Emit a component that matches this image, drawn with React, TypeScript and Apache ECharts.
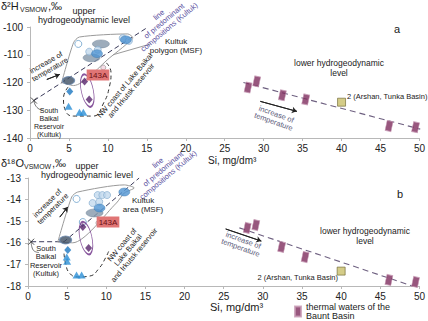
import React, { useEffect, useRef } from "react";
import * as echarts from "echarts";

const FONT = "'Liberation Sans', Arial, sans-serif";

// ---- thermal waters of the Baunt Basin (lower level) ----
const siBaunt = [28.0, 29.1, 32.4, 35.4, 46.1, 49.5];
const d2hBaunt = [-121.8, -119.6, -124.6, -126.1, -135.7, -136.1];
const d18oBaunt = [-15.31, -15.18, -16.19, -16.66, -17.72, -17.81];
// 2 (Arshan, Tunka Basin)
const arshanSi = [40.0];
const arshanD2H = [-127.1];
const arshanD18O = [-17.31];
// lower-level trend lines
const lowerLineA = [[27.4, -120.0], [50.1, -136.8]];
const lowerLineB = [[27.0, -15.31], [49.1, -18.0]];

// ---- upper level, panel a (δ2H) ----
const crossA = [[0.5, -126.5]];
const predomLineA = [[0.5, -126.5], [15.0, -100.3]];
const polygonA = [[4.06, -120.0], [5.58, -105.7], [6.35, -103.6], [12.56, -102.5], [13.2, -103.9], [12.3, -106.4], [10.4, -110.7], [5.58, -121.1], [4.06, -120.0]];
const leaderA = [[10.66, -110.0], [15.5, -106.1]];
const nwBoundA = [[4.9, -121.6], [4.3, -125.6], [4.6, -130.4], [5.6, -132.1], [8.1, -132.1], [9.5, -127.1], [10.2, -121.4], [10.4, -116.4], [9.8, -112.9]];
const southLinkA = [[0.5, -126.5], [0.9, -129.0], [1.7, -130.0]];
const openCircA = [[6.2, -106.1]];
const lightCircA = [[11.9, -104.0], [12.7, -105.0], [7.6, -108.9], [8.7, -108.2]];
const grayEllA = [[9.1, -106.1], [7.9, -111.1]];
const blueEllA = [[12.3, -104.6], [8.6, -109.6]];
const darkEllA = [[4.95, -119.3]];
const pinkA = [[9.4, -114.6]];
const purpleDiaA = [[7.0, -119.6], [7.6, -126.1]];
const purpleRingA = [[7.35, -122.9]];
const blueDiaA = [[5.1, -123.2]];
const triA = [[4.95, -128.6], [6.35, -130.7], [6.85, -130.7]];
const arrowsA = [
  [[2.16, -118.9], [3.81, -117.1]],
  [[29.57, -126.8], [34.26, -130.4]],
];

// ---- upper level, panel b (δ18O) ----
const crossB = [[0.4, -15.95]];
const predomLineB = [[0.4, -15.95], [4.6, -15.95], [14.2, -13.0]];
const polygonB = [[3.81, -15.96], [5.58, -13.88], [6.35, -13.65], [12.31, -13.32], [13.58, -13.46], [12.31, -13.69], [11.29, -14.16], [5.71, -16.0], [3.81, -15.96]];
const nwBoundB = [[4.6, -16.5], [4.8, -16.95], [5.3, -17.4], [6.35, -17.58], [7.87, -17.54], [9.1, -17.17], [9.9, -16.7], [10.3, -16.4]];
const southLinkB = [[0.4, -15.95], [0.6, -16.3], [1.4, -16.45]];
const openCircB = [[6.2, -13.97], [7.0, -15.04]];
const lightCircB = [[8.9, -13.79], [9.5, -13.79], [10.1, -13.79], [8.25, -14.16], [9.1, -14.1]];
const grayEllB = [[8.5, -14.62]];
const blueEllB = [[12.3, -13.65], [9.14, -14.39]];
const darkEllB = [[4.8, -15.87]];
const pinkB = [[9.0, -15.08]];
const purpleDiaB = [[7.0, -15.27], [7.74, -16.24]];
const purpleRingB = [[7.4, -15.78]];
const blueDiaB = [[5.08, -16.33]];
const triB = [[4.95, -16.66], [5.0, -16.85], [6.2, -17.49], [6.85, -17.49]];
const arrowsB = [
  [[4.06, -14.81], [5.08, -14.34]],
  [[25.25, -15.36], [29.8, -15.92]],
];

const BAUNT = "thermal waters of the\nBaunt Basin";

function App() {
  const ref = useRef<HTMLDivElement>(null);
  useEffect(() => {
    if (!ref.current) return;
    const chart = echarts.init(ref.current, null, { renderer: "svg" });

    const ax = (i: number) => ({ xAxisIndex: i, yAxisIndex: i });
    const line = (i: number, data: number[][], color: string, opts: any = {}) => ({
      type: "line", ...ax(i), data, symbol: "none", silent: true, smooth: opts.smooth || false,
      lineStyle: { color, width: opts.width || 1, type: opts.type || "solid" }, z: opts.z || 2,
    });
    const scat = (i: number, data: number[][], symbol: string, size: any, style: any, opts: any = {}) => ({
      type: "scatter", ...ax(i), data, symbol, symbolSize: size, silent: true,
      symbolRotate: opts.rot || 0, itemStyle: style, z: opts.z || 3, name: opts.name,
    });
    const arrows = (i: number, arr: number[][][]) => arr.map((a) => ({
      type: "line", ...ax(i), data: a, symbol: "none", silent: true,
      lineStyle: { color: "#222", width: 1 },
      markLine: {
        silent: true, symbol: ["none", "arrow"], symbolSize: 5, animation: false,
        lineStyle: { color: "#222", width: 1, type: "solid" }, label: { show: false },
        data: [[{ coord: a[0] }, { coord: a[1] }]],
      },
    }));

    const upper = (i: number, d: any) => [
      line(i, d.predom, "#3a3a5a", { type: [5, 3], width: 1 }),
      line(i, d.polygon, "#9a9a9a", { smooth: 0.25 }),
      ...(d.leader ? [line(i, d.leader, "#9a9a9a")] : []),
      line(i, d.nw, "#333", { type: [4, 3], smooth: 0.5 }),
      line(i, d.south, "#555", { smooth: 0.6, width: 0.8 }),
      scat(i, d.gray, "circle", [17, 8], { color: "#8497aa", borderColor: "#6c7f93", borderWidth: 0.5 }),
      scat(i, d.light, "circle", 7, { color: "#c3daee", borderColor: "#7fa8cc", borderWidth: 0.8 }, { z: 4 }),
      scat(i, d.blue, "circle", [11, 8], { color: "#4f93d2", borderColor: "#3a78b0", borderWidth: 0.5 }, { z: 5 }),
      scat(i, d.open, "circle", 7, { color: "#ffffff", borderColor: "#6aa0cc", borderWidth: 1 }),
      scat(i, d.dark, "circle", [12, 8], { color: "#3d4f63", borderColor: "#6a8ab0", borderWidth: 1 }),
      scat(i, d.pink, "circle", 5, { color: "#f1d3de", borderColor: "#8a8a8a", borderWidth: 0.8 }),
      scat(i, d.ring, "circle", [12, 33], { color: "rgba(0,0,0,0)", borderColor: "#6a2c84", borderWidth: 1.2 }, { rot: 12 }),
      scat(i, d.pdia, "diamond", [7, 8], { color: "#58246b" }),
      scat(i, d.bdia, "diamond", [7, 8], { color: "#1b77c0" }),
      scat(i, d.tri, "triangle", [8, 7], { color: "#2a8fd6" }),
      scat(i, d.cross, "path://M0,0L10,10M10,0L0,10", 6, { color: "none", borderColor: "#222", borderWidth: 1 }),
    ];

    const lower = (i: number, yv: number[], ay: number[], ll: number[][]) => [
      line(i, ll, "#6e6080", { type: [6, 4], width: 1.1 }),
      scat(i, siBaunt.map((x, k) => [x, yv[k]]), "rect", [6, 10],
        { color: "#7e2d5e", borderColor: "#c79ab4", borderWidth: 0.8 }, { rot: -12, name: BAUNT }),
      scat(i, arshanSi.map((x, k) => [x, ay[k]]), "rect", [8, 8],
        { color: "#c9bf6a", borderColor: "#6b6330", borderWidth: 0.8 }),
    ];

    const axisLabel = { fontSize: 10, color: "#222", fontFamily: FONT };
    const xAxis = (i: number) => ({
      type: "value", gridIndex: i, min: 0, max: 50, interval: 5,
      axisLine: { lineStyle: { color: "#b8b8b8" } },
      axisTick: { length: 3, lineStyle: { color: "#b8b8b8" } },
      splitLine: { show: false },
      axisLabel: { ...axisLabel, margin: 5 },
    });
    const yAxis = (i: number, min: number, max: number, interval: number) => ({
      type: "value", gridIndex: i, min, max, interval,
      axisLine: { show: true, lineStyle: { color: "#b8b8b8" } },
      axisTick: { show: true, length: 3, lineStyle: { color: "#b8b8b8" } },
      splitLine: { show: false },
      axisLabel: { ...axisLabel, margin: 7 },
    });

    const T = (x: number, y: number, text: string, o: any = {}) => ({
      type: "text", x, y, rotation: ((o.rot || 0) * Math.PI) / 180, silent: true, z: 100,
      style: {
        text, fill: o.color || "#1a1a1a", fontSize: o.size || 8, fontFamily: FONT,
        align: o.align || "center", verticalAlign: "middle", lineHeight: o.lh || (o.size || 8) + 1,
        backgroundColor: o.bg, padding: o.pad,
      },
    });
    const PUR = "#5a50a0";
    const graphic = [
      // panel a
      T(1, 6, "δ²H", { size: 11, align: "left" }),
      T(20, 9, "VSMOW", { size: 7, align: "left" }),
      T(48, 6, ",‰", { size: 11, align: "left" }),
      T(84, 15, "upper\nhydrogeodynamic level", { size: 9, lh: 9 }),
      T(164, 21, "line\nof predominant\ncompositions (Kultuk)", { size: 7.5, rot: 40, color: PUR, lh: 8 }),
      T(176, 46, "Kultuk\npolygon (MSF)", { size: 8, lh: 9 }),
      T(48, 66, "increase of\ntemperature", { size: 7.5, rot: 30, lh: 8 }),
      T(98, 75, "143A", { size: 8, bg: "#e07575", pad: [1, 2], color: "#6a0f14" }),
      T(128, 88, "NW coast of Lake Baikal\nand Irkutsk reservoir", { size: 7.5, rot: 50, lh: 8 }),
      T(49, 122, "South\nBaikal\nReservoir\n(Kultuk)", { size: 7, lh: 8 }),
      T(397, 29, "a", { size: 11 }),
      T(339, 68, "lower hydrogeodynamic\nlevel", { size: 8.5, lh: 10 }),
      T(347, 96, "2 (Arshan, Tunka Basin)", { size: 7.5, align: "left" }),
      T(275, 118, "increase of\ntemperature", { size: 7.5, rot: -20, color: "#5a5a7a", lh: 8 }),
      T(208, 160, "Si, mg/dm³", { size: 10, align: "left" }),
      // panel b
      T(1, 163, "δ¹⁸O", { size: 11, align: "left" }),
      T(24, 166, "VSMOW", { size: 7, align: "left" }),
      T(52, 163, ",‰", { size: 11, align: "left" }),
      T(87, 170, "upper\nhydrogeodynamic level", { size: 9, lh: 9 }),
      T(163, 169, "line\nof predominant\ncompositions (Kultuk)", { size: 7.5, rot: 40, color: PUR, lh: 8 }),
      T(143, 205, "Kultuk\narea (MSF)", { size: 8, lh: 9 }),
      T(50, 206, "increase of\ntemperature", { size: 7.5, rot: 45, lh: 8 }),
      T(108, 222, "143A", { size: 8, bg: "#e07575", pad: [1, 2], color: "#6a0f14" }),
      T(128, 250, "NW coast of\nLake Baikal\nand Irkutsk reservoir", { size: 7.5, rot: 50, lh: 8 }),
      T(46, 261, "South\nBaikal\nReservoir\n(Kultuk)", { size: 7.5, lh: 8.5 }),
      T(400, 194, "b", { size: 11 }),
      T(365, 236, "lower hydrogeodynamic\nlevel", { size: 8.5, lh: 10 }),
      T(338, 277, "2 (Arshan, Tunka Basin)", { size: 7.5, align: "right" }),
      T(242, 244, "increase of\ntemperature", { size: 7.5, rot: -20, color: "#5a5a7a", lh: 8 }),
      T(210, 307, "Si, mg/dm³", { size: 11, align: "left" }),
    ];

    const option: any = {
      animation: false,
      backgroundColor: "#ffffff",
      grid: [
        { left: 28, top: 27, width: 394, height: 111 },
        { left: 28, top: 178, width: 394, height: 108 },
      ],
      xAxis: [xAxis(0), xAxis(1)],
      yAxis: [yAxis(0, -140, -100, 10), yAxis(1, -18, -13, 1)],
      legend: {
        data: [BAUNT], left: 294, top: 302, itemWidth: 6, itemHeight: 10, itemGap: 4,
        icon: "rect", selectedMode: false, padding: 0,
        textStyle: { fontSize: 9, fontFamily: FONT, color: "#1a1a1a", lineHeight: 9.5 },
      },
      series: [
        ...upper(0, {
          predom: predomLineA, polygon: polygonA, leader: leaderA, nw: nwBoundA, south: southLinkA,
          gray: grayEllA, light: lightCircA, blue: blueEllA, open: openCircA, dark: darkEllA,
          pink: pinkA, ring: purpleRingA, pdia: purpleDiaA, bdia: blueDiaA, tri: triA, cross: crossA,
        }),
        ...arrows(0, arrowsA),
        ...lower(0, d2hBaunt, arshanD2H, lowerLineA),
        ...upper(1, {
          predom: predomLineB, polygon: polygonB, nw: nwBoundB, south: southLinkB,
          gray: grayEllB, light: lightCircB, blue: blueEllB, open: openCircB, dark: darkEllB,
          pink: pinkB, ring: purpleRingB, pdia: purpleDiaB, bdia: blueDiaB, tri: triB, cross: crossB,
        }),
        ...arrows(1, arrowsB),
        ...lower(1, d18oBaunt, arshanD18O, lowerLineB),
      ],
      graphic,
    };
    chart.setOption(option);
    return () => chart.dispose();
  }, []);
  return (
    <div
      ref={ref}
      style={{ position: "fixed", left: 0, top: 0, width: 428, height: 321, background: "#fff" }}
    />
  );
}

export default App;
